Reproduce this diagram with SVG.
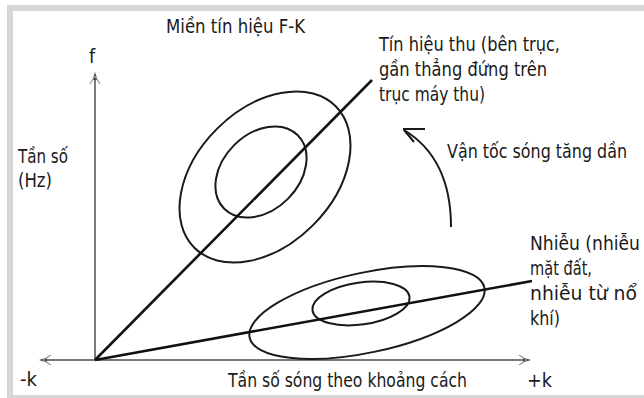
<svg xmlns="http://www.w3.org/2000/svg" width="644" height="398" viewBox="0 0 644 398">
<style>
.t{font-family:"DejaVu Sans Condensed","DejaVu Sans",sans-serif;font-size:19.5px;fill:#1a1a1a}
.ax{stroke:#7a7a7a;stroke-width:2;fill:none}
.hd{fill:#444}
.barb{stroke:#9a9a9a;stroke-width:1.3;fill:none}
.cv{stroke:#1a1a1a;stroke-width:2;fill:none}
.ln{stroke:#111;stroke-width:2.6;fill:none}
</style>
<rect x="0" y="0" width="644" height="398" fill="#fff"/>
<rect x="7" y="5" width="650" height="393" fill="#d6d6d6"/>
<rect x="13" y="11" width="650" height="384" fill="#fff"/>
<g id="axes">
<line class="ax" x1="95" y1="76" x2="95" y2="360"/>
<line class="ax" x1="43" y1="360" x2="527" y2="360"/>
<path class="hd" d="M95,72 L97.5,80 L92.5,80 Z"/>
<path class="barb" d="M95,76 L90,84 M95,76 L100,84"/>
<path class="hd" d="M39,360 L47,357.5 L47,362.5 Z"/>
<path class="barb" d="M43,360 L51,355 M43,360 L51,365"/>
<path class="hd" d="M531,360 L523,357.5 L523,362.5 Z"/>
<path class="barb" d="M527,360 L519,355 M527,360 L519,365"/>
</g>
<g id="signal">
<ellipse class="cv" cx="265" cy="177" rx="100" ry="68" transform="rotate(-45 265 177)"/>
<ellipse class="cv" cx="261" cy="172" rx="52" ry="38" transform="rotate(-45 261 172)"/>
</g>
<g id="noise">
<ellipse class="cv" cx="367" cy="312.5" rx="120" ry="40" transform="rotate(-12 367 312.5)"/>
<ellipse class="cv" cx="361" cy="303.5" rx="49" ry="21" transform="rotate(-8 361 303.5)"/>
</g>
<g id="connectors">
<line class="ln" x1="95" y1="360" x2="372" y2="80"/>
<line class="ln" x1="95" y1="360" x2="532" y2="281"/>
<path class="cv" d="M451,227 C451,185 437,150 404,130"/>
<path class="cv" d="M403,129 L425,129 M404,130 L414,142"/>
</g>
<g id="labels">
<text class="t" x="166" y="33" textLength="139" lengthAdjust="spacingAndGlyphs">Miền tín hiệu F-K</text>
<text class="t" x="89" y="63">f</text>
<text class="t" x="18" y="163" textLength="50" lengthAdjust="spacingAndGlyphs">Tần số</text>
<text class="t" x="18" y="187" textLength="34" lengthAdjust="spacingAndGlyphs">(Hz)</text>
<text class="t" x="379" y="51" textLength="181" lengthAdjust="spacingAndGlyphs">Tín hiệu thu (bên trục,</text>
<text class="t" x="379" y="76" textLength="168" lengthAdjust="spacingAndGlyphs">gần thẳng đứng trên</text>
<text class="t" x="379" y="101" textLength="106" lengthAdjust="spacingAndGlyphs">trục máy thu)</text>
<text class="t" x="447" y="158" textLength="180" lengthAdjust="spacingAndGlyphs">Vận tốc sóng tăng dần</text>
<text class="t" x="530" y="250" textLength="110" lengthAdjust="spacingAndGlyphs">Nhiễu (nhiễu</text>
<text class="t" x="530" y="275" textLength="62" lengthAdjust="spacingAndGlyphs">mặt đất,</text>
<text class="t" x="530" y="300" textLength="107" lengthAdjust="spacingAndGlyphs">nhiễu từ nổ</text>
<text class="t" x="530" y="325" textLength="30" lengthAdjust="spacingAndGlyphs">khí)</text>
<text class="t" x="20" y="386" textLength="17" lengthAdjust="spacingAndGlyphs">-k</text>
<text class="t" x="228" y="387" textLength="239" lengthAdjust="spacingAndGlyphs">Tần số sóng theo khoảng cách</text>
<text class="t" x="527" y="387" textLength="25" lengthAdjust="spacingAndGlyphs">+k</text>
</g>
</svg>
